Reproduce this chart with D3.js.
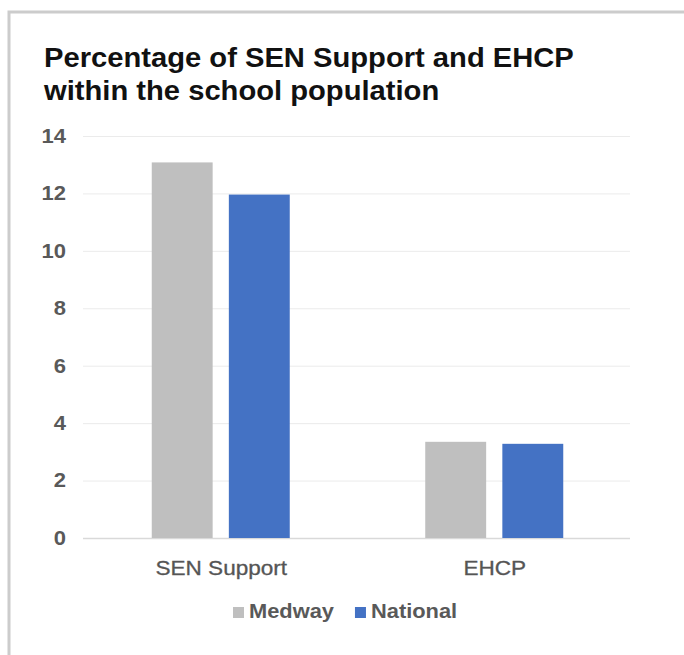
<!DOCTYPE html>
<html>
<head>
<meta charset="utf-8">
<script src="https://cdn.jsdelivr.net/npm/d3@7"></script>
<style>
  html, body { margin: 0; padding: 0; background: #fff; }
  svg text { font-family: "Liberation Sans", Arial, sans-serif; }
</style>
</head>
<body>
<svg id="chart" width="684" height="655"></svg>
<script>
// Chart data
const categories = ["SEN Support", "EHCP"];
const seriesNames = ["Medway", "National"];
const medway = [13.08, 3.35];
const national = [11.96, 3.28];
const yTicks = [0, 2, 4, 6, 8, 10, 12, 14];
const titleLines = ["Percentage of SEN Support and EHCP", "within the school population"];
const colors = ["#bfbfbf", "#4472c4"];

const seriesValues = [medway, national];
const rows = categories.map((c, i) => ({
  category: c,
  values: seriesNames.map((s, j) => ({ series: s, value: seriesValues[j][i] }))
}));

const svg = d3.select("#chart");
const stretch = 1.1;       // horizontal widening applied to axis/legend text
const titleStretch = 1.08; // horizontal widening for the title

function widen(sel, k) {
  sel.each(function () {
    const w = this.getComputedTextLength();
    d3.select(this).attr("textLength", w * k).attr("lengthAdjust", "spacingAndGlyphs");
  });
}

// Frame
svg.append("rect")
  .attr("x", 9).attr("y", 12)
  .attr("width", 684).attr("height", 700)
  .attr("fill", "none")
  .attr("stroke", "#cccccc")
  .attr("stroke-width", 3);

// Title
const title = svg.append("text")
  .attr("font-size", 27)
  .attr("font-weight", "bold")
  .attr("fill", "#111");
titleLines.forEach((t, i) => {
  title.append("tspan").attr("x", 44).attr("y", 67 + i * 32.5).text(t);
});
widen(title.selectAll("tspan"), titleStretch);

const margin = { left: 83, right: 630, top: 136, bottom: 538 };

const y = d3.scaleLinear().domain([0, 14]).range([margin.bottom, margin.top]);
const x0 = d3.scaleBand().domain(categories).range([margin.left, margin.right]).padding(0);
const x1 = d3.scaleBand().domain(seriesNames).range([-68, 70]).paddingInner(0.21);
const color = d3.scaleOrdinal().domain(seriesNames).range(colors);

// Gridlines and value axis
const yAxis = d3.axisLeft(y).tickValues(yTicks).tickSize(-(margin.right - margin.left)).tickPadding(17);
const gy = svg.append("g").attr("transform", `translate(${margin.left},0)`).call(yAxis);
gy.select(".domain").remove();
gy.selectAll(".tick line").attr("stroke", d => d === 0 ? "#d9d9d9" : "#ebebeb").attr("stroke-width", d => d === 0 ? 1.5 : 1);
gy.selectAll(".tick text")
  .attr("font-size", 20)
  .attr("font-weight", "bold")
  .attr("fill", "#595959")
  .attr("font-family", "Liberation Sans, Arial, sans-serif");
widen(gy.selectAll(".tick text"), stretch);

// Bars
const groups = svg.append("g").selectAll("g")
  .data(rows)
  .join("g")
  .attr("transform", d => `translate(${x0(d.category) + x0.bandwidth() / 2},0)`);

groups.selectAll("rect")
  .data(d => d.values)
  .join("rect")
  .attr("x", d => x1(d.series))
  .attr("width", x1.bandwidth())
  .attr("y", d => y(d.value))
  .attr("height", d => y(0) - y(d.value))
  .attr("fill", d => color(d.series));

// Category axis
const xAxis = d3.axisBottom(x0).tickSize(0).tickPadding(22);
const gx = svg.append("g").attr("transform", `translate(1.5,${margin.bottom})`).call(xAxis);
gx.select(".domain").remove();
gx.selectAll(".tick text")
  .attr("font-size", 20.5)
  .attr("fill", "#555")
  .attr("stroke", "#555")
  .attr("stroke-width", 0.3)
  .attr("font-family", "Liberation Sans, Arial, sans-serif");
widen(gx.selectAll(".tick text"), stretch);

// Legend
const legend = svg.append("g").attr("transform", "translate(233,0)");
let lx = 0;
seriesNames.forEach((s, i) => {
  const g = legend.append("g").attr("transform", `translate(${lx},0)`);
  g.append("rect").attr("x", 0).attr("y", 607).attr("width", 11).attr("height", 11).attr("fill", colors[i]);
  const t = g.append("text")
    .attr("x", 16).attr("y", 618)
    .attr("font-size", 19.5)
    .attr("font-weight", "bold")
    .attr("fill", "#595959")
    .text(s);
  const w = t.node().getComputedTextLength() * 1.12;
  t.attr("textLength", w).attr("lengthAdjust", "spacingAndGlyphs");
  lx += 16 + w + 21;
});
</script>
</body>
</html>
